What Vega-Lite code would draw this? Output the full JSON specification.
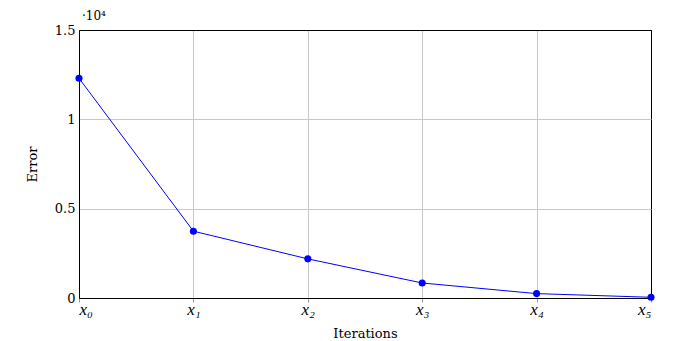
{
  "$schema": "https://vega.github.io/schema/vega-lite/v6.json",
  "autosize": "none",
  "width": 572,
  "height": 268,
  "padding": {"left": 79, "top": 30, "right": 23, "bottom": 43},
  "background": "white",
  "config": {
    "font": "DejaVu Serif",
    "view": {"stroke": "black", "strokeWidth": 1}
  },
  "title": {
    "text": "·10⁴",
    "anchor": "start",
    "frame": "group",
    "dx": 3,
    "offset": 1,
    "font": "DejaVu Serif",
    "fontSize": 12,
    "fontWeight": "normal",
    "color": "black"
  },
  "data": {
    "values": [
      {"i": 0, "error": 12300},
      {"i": 1, "error": 3740},
      {"i": 2, "error": 2190},
      {"i": 3, "error": 840},
      {"i": 4, "error": 245},
      {"i": 5, "error": 40}
    ]
  },
  "encoding": {
    "x": {
      "field": "i",
      "type": "quantitative",
      "scale": {"domain": [0, 5], "nice": false, "zero": false},
      "axis": {
        "values": [0, 1, 2, 3, 4, 5],
        "labelExpr": "'x' + ['₀','₁','₂','₃','₄','₅'][datum.value]",
        "title": "Iterations",
        "titleFont": "DejaVu Serif",
        "titleFontSize": 13,
        "titleFontWeight": "normal",
        "titleColor": "black",
        "titlePadding": 10,
        "labelFont": "Liberation Serif",
        "labelFontStyle": "italic",
        "labelFontSize": 17,
        "labelColor": "black",
        "labelPadding": -1,
        "domainColor": "black",
        "tickColor": "#999999",
        "tickSize": 4,
        "gridColor": {"condition": {"test": "datum.value == 5", "value": "black"}, "value": "#c8c8c8"},
        "gridWidth": 1
      }
    },
    "y": {
      "field": "error",
      "type": "quantitative",
      "scale": {"domain": [0, 15000], "nice": false},
      "axis": {
        "values": [0, 5000, 10000, 15000],
        "labelExpr": "datum.value / 10000",
        "title": "Error",
        "titleFont": "DejaVu Serif",
        "titleFontSize": 13,
        "titleFontWeight": "normal",
        "titleColor": "black",
        "titlePadding": 15,
        "labelFont": "DejaVu Serif",
        "labelFontSize": 13,
        "labelColor": "black",
        "labelPadding": 4,
        "domainColor": "black",
        "tickColor": "#999999",
        "tickSize": 0,
        "gridColor": {"condition": {"test": "datum.value == 15000", "value": "black"}, "value": "#c8c8c8"},
        "gridWidth": 1
      }
    }
  },
  "layer": [
    {"mark": {"type": "line", "color": "blue", "strokeWidth": 1}},
    {"mark": {"type": "point", "filled": true, "color": "blue", "size": 50, "opacity": 1}}
  ]
}
